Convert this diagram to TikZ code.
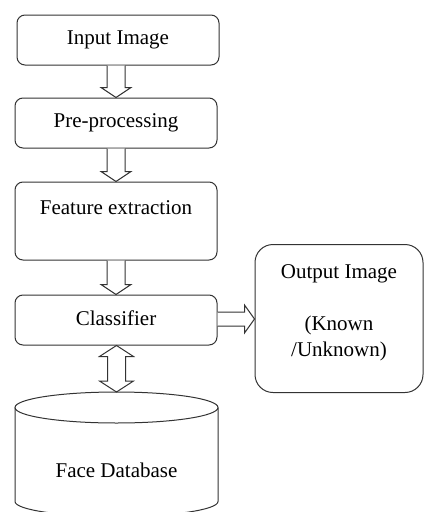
\documentclass[tikz,border=0pt]{standalone}
\usepackage{fontspec}
\setmainfont{Liberation Serif}
\usetikzlibrary{calc}
\definecolor{ln}{HTML}{333333}
\tikzset{
  box/.style={draw=ln, line width=1pt, rounded corners=8pt, inner sep=0pt},
  blk/.style={draw=ln, line width=1pt, fill=white, line join=miter},
  txt/.style={font=\fontsize{21}{26}\selectfont, text=black, inner sep=0pt}
}
\newcommand\vblock[2]{%
  \draw[blk] ($(#2 |- #1)+(-9,0)$) -- ($(#2)+(-9,10)$) -- ($(#2)+(-15,10)$) -- (#2)
    -- ($(#2)+(15,10)$) -- ($(#2)+(9,10)$) -- ($(#2 |- #1)+(9,0)$);}
\begin{document}
\begin{tikzpicture}[x=1pt,y=1pt]
\useasboundingbox (0,0) rectangle (425,-512);
% boxes
\node[box, txt, minimum width=202pt, minimum height=50pt] (in) at (118,-40) {Input Image};
\node[box, txt, minimum width=202pt, minimum height=50pt] (pre) at (116,-123) {Pre-processing};
\node[box, minimum width=202pt, minimum height=78pt] (feat) at (116,-221) {};
\node[txt] (feattxt) at ($(feat.north)+(0,-26)$) {Feature extraction};
\node[box, txt, minimum width=202pt, minimum height=50pt] (cls) at (116,-320) {};
\node[txt] (clstxt) at (116,-318) {Classifier};
\node[box, rounded corners=18pt, minimum width=168pt, minimum height=148pt] (out) at (339,-318.5) {};
\node[txt, align=center, anchor=north] (outtxt) at (339,-264) {Output Image\\[26pt](Known\\/Unknown)};
% database cylinder
\coordinate (dbc) at (116.5,-407.5);
\coordinate (dbtop) at (116.5,-392);
\draw[draw=ln, line width=1pt] (dbc) ellipse [x radius=101.5pt, y radius=15.5pt];
\draw[draw=ln, line width=1pt] ($(dbc)+(-101.5,0)$) -- ++(0,-94)
  arc[start angle=180, end angle=360, x radius=101.5pt, y radius=15pt] -- ($(dbc)+(101.5,0)$);
\node[txt] (db) at (116.5,-470) {Face Database};
% arrows
\vblock{in.south}{pre.north}
\vblock{pre.south}{feat.north}
\vblock{feat.south}{cls.north}
% horizontal
\coordinate (htip) at (out.west |- 0,-319);
\coordinate (hstart) at (cls.east |- 0,-319);
\draw[blk] ($(hstart)+(0,7)$) -- ($(htip)+(-10,7)$) -- ($(htip)+(-10,14)$) -- (htip)
  -- ($(htip)+(-10,-14)$) -- ($(htip)+(-10,-7)$) -- ($(hstart)+(0,-7)$);
% double arrow
\coordinate (dtop) at (cls.south -| dbtop);
\draw[blk] (dtop) -- ($(dtop)+(17,-11)$) -- ($(dtop)+(9,-11)$) -- ($(dbtop)+(9,11)$)
  -- ($(dbtop)+(17,11)$) -- (dbtop) -- ($(dbtop)+(-17,11)$) -- ($(dbtop)+(-9,11)$)
  -- ($(dtop)+(-9,-11)$) -- ($(dtop)+(-17,-11)$) -- cycle;
\end{tikzpicture}
\end{document}
